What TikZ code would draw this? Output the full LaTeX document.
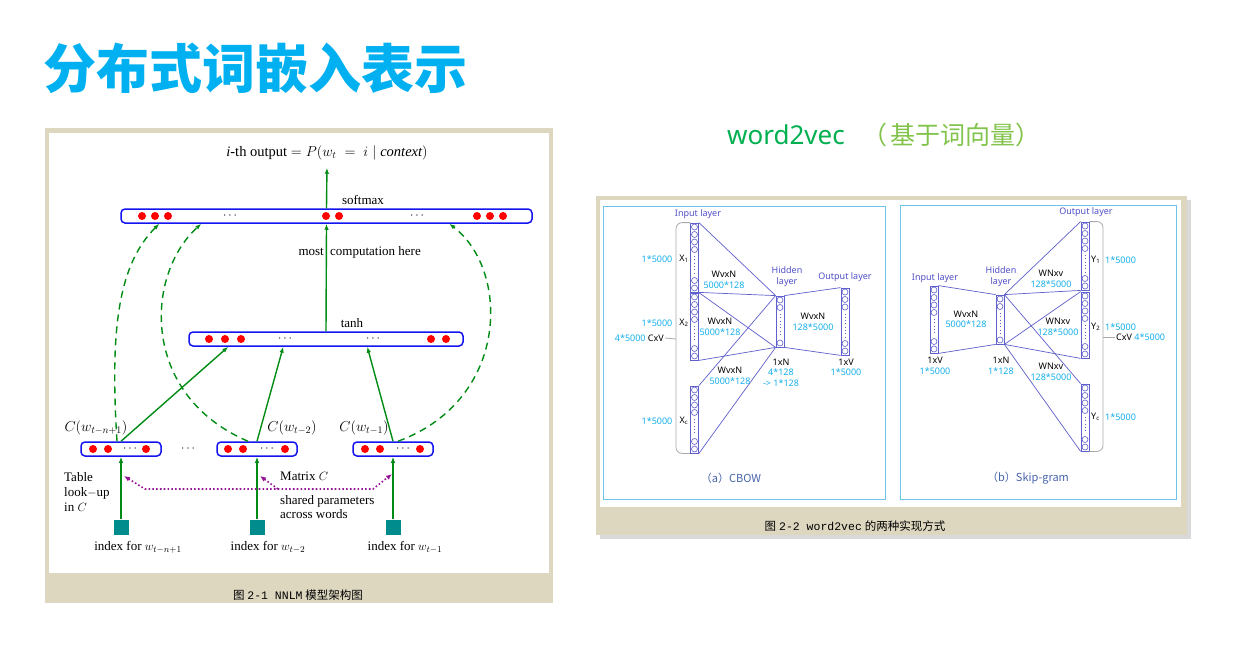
\documentclass[tikz,border=0pt]{standalone}
\usepackage{fontspec}
\setmainfont{Liberation Serif}
\setmonofont{Liberation Mono}
\newfontfamily\cjk{Noto Sans CJK SC}
\newfontfamily\lblfont{Noto Sans}
\usetikzlibrary{arrows.meta,calc,positioning}
\definecolor{ttlcyan}{RGB}{0,176,240}
\definecolor{w2vgreen}{RGB}{0,176,80}
\definecolor{w2vlight}{RGB}{130,195,75}
\definecolor{panelbg}{RGB}{222,215,192}
\definecolor{nnblue}{RGB}{20,20,240}
\definecolor{nngreen}{RGB}{0,140,20}
\definecolor{nnteal}{RGB}{0,140,140}
\definecolor{nnpurple}{RGB}{150,20,150}
\definecolor{wvline}{RGB}{95,95,205}
\definecolor{wvlayer}{RGB}{80,80,200}
\definecolor{wvframe}{RGB}{110,195,235}
\definecolor{wvcyan}{RGB}{20,175,235}
\definecolor{wvcap}{RGB}{70,100,170}
\definecolor{wvbrkgray}{RGB}{170,170,170}

% one layer column: name, x, top, bottom, circles on top, circles at bottom
\newcommand{\wvcol}[6]{%
  \node[wvcolbox, minimum height={#4-#3}] (#1) at (#2,{(#3+#4)/2}) {};
  \foreach \k in {1,...,#5} \draw[wvcirc] (#2,{#3-3.5+7.5*\k}) circle (3);
  \foreach \k in {1,...,#6} \draw[wvcirc] (#2,{#4+3.5-7.5*\k}) circle (3);
  \draw[wvcirc, dash pattern=on 0.8pt off 2.5pt] (#2,{#3+7.5*#5+3}) -- (#2,{#4-7.5*#6-3});
}

\begin{document}
\begin{tikzpicture}[x=1pt,y=-1pt,font=\fontsize{13}{15}\selectfont,
    nnbar/.style={draw=nnblue, line width=1.5pt, rounded corners=4pt, minimum height=14, inner sep=0pt, fill=white},
    dotsnode/.style={inner sep=0pt, font=\fontsize{13}{14}\selectfont},
    garrow/.style={draw=nngreen, line width=1.4pt, -{Latex[length=6pt,width=4.5pt]}},
    gdash/.style={garrow, dash pattern=on 7pt off 5pt},
    pdot/.style={draw=nnpurple, line width=1.6pt, dash pattern=on 1.6pt off 2.2pt},
    idxsq/.style={fill=nnteal, minimum size=15, inner sep=0pt},
    wvcolbox/.style={draw=wvline, line width=0.8pt, minimum width=8, inner sep=0pt},
    wvcirc/.style={draw=wvline, line width=0.6pt},
    wvedge/.style={draw=wvline, line width=0.7pt},
    wvbrk/.style={draw=wvbrkgray, line width=0.8pt, rounded corners=6pt},
    wvframebox/.style={draw=wvframe, line width=1pt},
    wvtxt/.style={font=\lblfont\fontsize{9}{10.5}\selectfont, inner sep=1pt, align=center},
    wvnum/.style={wvtxt, text=wvcyan},
    wvlay/.style={wvtxt, text=wvlayer},
    wvcapt/.style={font=\cjk\fontsize{11}{13}\selectfont, text=wvcap, inner sep=1pt},
    captxt/.style={font=\fontsize{11.5}{13}\selectfont, inner sep=1pt}]
  \useasboundingbox (0,0) rectangle (1250,650);

  % headings
  \node[anchor=west, inner sep=0pt, text=ttlcyan, font={\cjk\bfseries\fontsize{53}{60}\selectfont}] (title) at (43,68) {分布式词嵌入表示};
  \node[anchor=west, inner sep=0pt, text=w2vgreen, font={\lblfont\fontsize{26}{30}\selectfont}] (wvname) at (727,135) {word2vec};
  \node[anchor=west, inner sep=0pt, text=w2vlight, font={\cjk\fontsize{25}{30}\selectfont}] (wvnote) at (862,135) {（\hspace{3pt}基于词向量）};

  % ---------- NNLM ----------
  \fill[panelbg] (45,128) rectangle (553,603);
  \fill[white] (49,133) rectangle (549,573);

  \node[nnbar, minimum width=411] (smbar) at (326.5,216) {};
  \node[nnbar, minimum width=274] (thbar) at (326,339) {};
  \node[nnbar, minimum width=80] (cb1) at (121,449) {};
  \node[nnbar, minimum width=80] (cb2) at (257,449) {};
  \node[nnbar, minimum width=80] (cb3) at (393,449) {};
  \foreach \x in {142,155,168,326,339,477,490,503} \fill[red] (\x,216) circle (4);
  \foreach \x in {209,225,241,431,446} \fill[red] (\x,339) circle (4);
  \foreach \x in {93,108,146,228,243,285,365,380,420} \fill[red] (\x,449) circle (4);
  \foreach \x/\y [count=\i] in {230/216,417/216,285/339,373/339,130/449,267/449,403/449,188/449}
    \node[dotsnode] (dt\i) at (\x,\y) {$\cdots$};

  \node[font=\fontsize{14.5}{16}\selectfont] (outtxt) at (327,153) {\textit{i}-th output $= P(w_t \;=\; i \mid \mathit{context})$};
  \node (smlbl) at (363,200) {softmax};
  \node (thlbl) at (352,323) {tanh};
  \node[anchor=east, inner sep=0pt] (mostlbl) at (324,252) {most};
  \node[anchor=west, inner sep=0pt] (complbl) at (330,252) {computation here};
  \node[font=\fontsize{14}{16}\selectfont] (cl1) at (96,428) {$C(w_{t-n+1})$};
  \node[font=\fontsize{14}{16}\selectfont] (cl2) at (292,428) {$C(w_{t-2})$};
  \node[font=\fontsize{14}{16}\selectfont] (cl3) at (364,428) {$C(w_{t-1})$};

  \draw[garrow, shorten >=4pt] (smbar.north) -- (outtxt.south);
  \draw[garrow] (thbar.north) -- (smbar.south);
  \draw[garrow] (cb1.north) -- ($(thbar.south west)+(40,0)$);
  \draw[garrow] (cb2.north) -- ($(thbar.south west)+(95,0)$);
  \draw[garrow] (cb3.north) -- ($(thbar.south west)+(179,0)$);

  \draw[gdash] ($(cb1.north)+(-4,0)$) .. controls (110,330) and (118,265) .. ($(smbar.south west)+(39,0)$);
  \draw[gdash] ($(cb2.north)+(-9,0)$) .. controls (140,395) and (145,275) .. ($(smbar.south west)+(81,0)$);
  \draw[gdash] ($(cb3.north)+(5,0)$) .. controls (510,400) and (510,270) .. ($(smbar.south west)+(329,0)$);

  \node[idxsq] (ix1) at (121,527) {};
  \node[idxsq] (ix2) at (257,527) {};
  \node[idxsq] (ix3) at (393,527) {};
  \draw[garrow] (ix1.north) -- (cb1.south);
  \draw[garrow] (ix2.north) -- (cb2.south);
  \draw[garrow] (ix3.north) -- (cb3.south);
  \node (ixl1) at (138,547) {index for $w_{t-n+1}$};
  \node (ixl2) at (268,547) {index for $w_{t-2}$};
  \node (ixl3) at (405,547) {index for $w_{t-1}$};

  \node[anchor=west, align=left, inner sep=0pt] (tbl) at (64,492) {Table\\ look$-$up\\ in $C$};
  \node[anchor=west, inner sep=0pt] (mtx) at (280,476) {Matrix $C$};
  \node[anchor=west, align=left, inner sep=0pt, font=\fontsize{13}{14}\selectfont] (shr) at (280,507) {shared parameters\\across words};

  \coordinate (pl) at (145,489);
  \coordinate (pm) at (278,489);
  \coordinate (pr) at (373,489);
  \coordinate (lk1) at (124,476);
  \coordinate (lk2) at (260,476);
  \coordinate (lk3) at (392,474);
  \draw[pdot, {Latex[length=6pt,width=5pt]}-{Latex[length=6pt,width=5pt]}] (lk1) -- (pl) -- (pr) -- (lk3);
  \draw[pdot, -{Latex[length=6pt,width=5pt]}] (pm) -- (lk2);

  \node[captxt] (cap1) at (298,595) {{\cjk 图}\ {\ttfamily 2-1 NNLM}\ {\cjk 模型架构图}};

  % ---------- word2vec ----------
  \fill[gray!30] (600,200) rectangle (1191,539);
  \fill[panelbg] (596,196) rectangle (1187,535);
  \fill[white] (600,200) rectangle (1181,507);
  \draw[wvframebox] (603,206) rectangle (885,499);
  \draw[wvframebox] (900,205) rectangle (1176,499);

  % CBOW
  \wvcol{x1}{694.5}{223}{292}{4}{2}
  \wvcol{x2}{694.5}{293}{360}{4}{2}
  \wvcol{xc}{694.5}{386}{453}{4}{2}
  \wvcol{hid}{780}{296}{347}{2}{1}
  \wvcol{outc}{845}{288}{355}{3}{2}
  \draw[wvedge] (x1.north east) -- (hid.north west);
  \draw[wvedge] (x1.south east) -- (hid.north west);
  \draw[wvedge] (x2.north east) -- (hid.south west);
  \draw[wvedge] (x2.south east) -- (hid.south west);
  \draw[wvedge] (xc.north east) -- (hid.north west);
  \draw[wvedge] (xc.south east) -- (hid.south west);
  \draw[wvedge] (hid.north east) -- (outc.north west);
  \draw[wvedge] (hid.south east) -- (outc.south west);

  \coordinate (cbrk) at (676,339);
  \draw[wvbrk] (x1.north west) -| (cbrk) |- (xc.south west);
  \node[wvtxt, anchor=east] (cxv) at (665,338) {\textcolor{wvcyan}{4*5000} CxV};
  \draw[wvbrk] (cbrk) -- (cxv.east);

  \node[wvlay] (inlbl) at (698,214) {Input layer};
  \node[wvnum] (n1) at (657,259) {1*5000};
  \node[wvtxt] (x1l) at (684,259) {X\textsubscript{1}};
  \node[wvnum] (n2) at (657,323) {1*5000};
  \node[wvtxt] (x2l) at (684,323) {X\textsubscript{2}};
  \node[wvnum] (nc) at (657,421) {1*5000};
  \node[wvtxt] (xcl) at (684,421) {X\textsubscript{c}};
  \node[wvtxt] (w1) at (724,280) {WvxN\\\textcolor{wvcyan}{5000*128}};
  \node[wvtxt] (w2) at (720,327) {WvxN\\\textcolor{wvcyan}{5000*128}};
  \node[wvtxt] (w3) at (730,376) {WvxN\\\textcolor{wvcyan}{5000*128}};
  \node[wvtxt] (w4) at (813,322) {WvxN\\\textcolor{wvcyan}{128*5000}};
  \node[wvlay] (hidlbl) at (787,276.5) {Hidden\\layer};
  \node[wvlay] (outlbl) at (845,277) {Output layer};
  \node[wvtxt] (hdim) at (781,372.5) {1xN\\\textcolor{wvcyan}{4*128}\\\textcolor{wvcyan}{-> 1*128}};
  \node[wvtxt] (odim) at (846,367.5) {1xV\\\textcolor{wvcyan}{1*5000}};
  \node[wvcapt] (capa) at (731,478) {（a）CBOW};

  % Skip-gram
  \wvcol{sin}{934}{286}{353}{4}{2}
  \wvcol{shid}{1000}{295}{344}{2}{1}
  \wvcol{y1}{1085}{222}{290}{4}{2}
  \wvcol{y2}{1085}{292}{358}{4}{2}
  \wvcol{yc}{1085}{384}{451}{4}{2}
  \draw[wvedge] (sin.north east) -- (shid.north west);
  \draw[wvedge] (sin.south east) -- (shid.south west);
  \draw[wvedge] (shid.north east) -- (y1.north west);
  \draw[wvedge] (shid.north east) -- (y1.south west);
  \draw[wvedge] (shid.south east) -- (y2.north west);
  \draw[wvedge] (shid.south east) -- (y2.south west);
  \draw[wvedge] (shid.north east) -- (yc.north west);
  \draw[wvedge] (shid.south east) -- (yc.south west);

  \coordinate (sbrk) at (1103,337);
  \draw[wvbrk] (y1.north east) -| (sbrk) |- (yc.south east);
  \node[wvtxt, anchor=west] (sxv) at (1115,337) {CxV \textcolor{wvcyan}{4*5000}};
  \draw[wvbrk] (sbrk) -- (sxv.west);

  \node[wvlay] (sinlbl) at (935,278) {Input layer};
  \node[wvtxt] (sw1) at (966,319.5) {WvxN\\\textcolor{wvcyan}{5000*128}};
  \node[wvtxt] (sindim) at (935,366) {1xV\\\textcolor{wvcyan}{1*5000}};
  \node[wvlay] (shidlbl) at (1001,276.5) {Hidden\\layer};
  \node[wvtxt] (shdim) at (1001,366) {1xN\\\textcolor{wvcyan}{1*128}};
  \node[wvlay] (soutlbl) at (1086,212) {Output layer};
  \node[wvtxt] (sw2) at (1051,279) {WNxv\\\textcolor{wvcyan}{128*5000}};
  \node[wvtxt] (sw3) at (1058,327) {WNxv\\\textcolor{wvcyan}{128*5000}};
  \node[wvtxt] (sw4) at (1051,372) {WNxv\\\textcolor{wvcyan}{128*5000}};
  \node[wvtxt, anchor=west] (y1l) at (1090,260) {Y\textsubscript{1}};
  \node[wvnum, anchor=west] (m1) at (1104,260) {1*5000};
  \node[wvtxt, anchor=west] (y2l) at (1090,327) {Y\textsubscript{2}};
  \node[wvnum, anchor=west] (m2) at (1104,327) {1*5000};
  \node[wvtxt, anchor=west] (ycl) at (1090,417) {Y\textsubscript{c}};
  \node[wvnum, anchor=west] (mc) at (1104,417) {1*5000};
  \node[wvcapt] (capb) at (1028,478) {（b）Skip-gram};

  \node[captxt] (cap2) at (855,526) {{\cjk 图}\ {\ttfamily 2-2 word2vec}\ {\cjk 的两种实现方式}};
\end{tikzpicture}
\end{document}
